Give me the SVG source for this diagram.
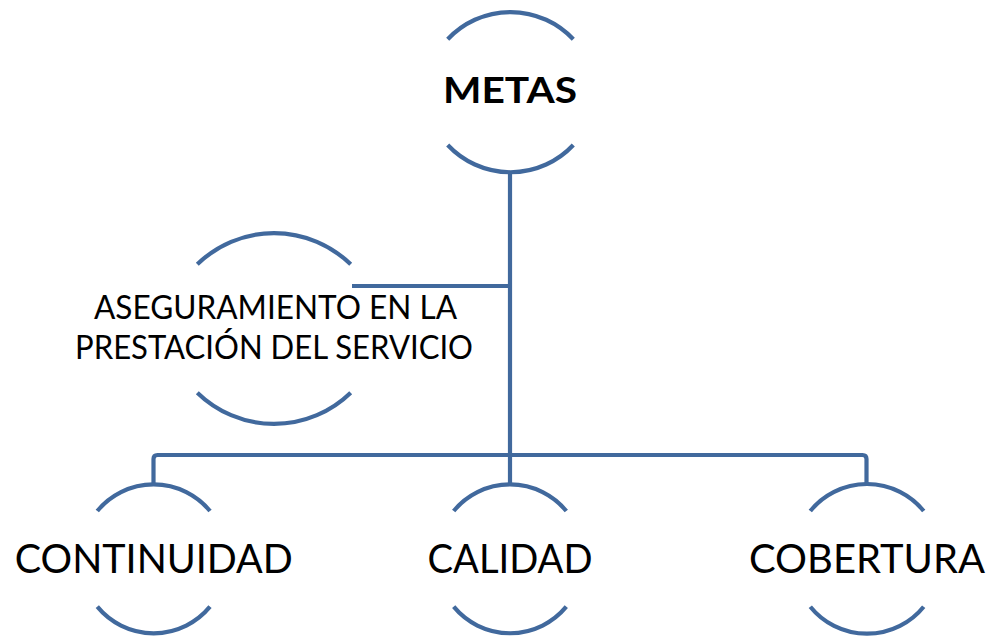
<svg xmlns="http://www.w3.org/2000/svg" width="992" height="639" viewBox="0 0 992 639">
<style>
.arc{fill:none;stroke:#41699D;stroke-width:4.2}
.con{fill:none;stroke:#41699D;stroke-width:4.2}
.lbl{font-family:"Lato","Open Sans","Liberation Sans",sans-serif;fill:#000;text-anchor:middle}
</style>
<rect width="992" height="639" fill="#fff"/>
<g id="connectors">
<path class="con" d="M510,173 V485"/>
<path class="con" d="M352,286 H510"/>
<path class="con" d="M153.5,485 V459 Q153.5,455 157.5,455 H862.5 Q866.5,455 866.5,459 V485"/>
</g>
<g id="metas">
<path class="arc" d="M447.7,39.3 A86,86 0 0 1 573.3,39.3"/>
<path class="arc" d="M447.7,145 A86,86 0 0 0 573.3,145"/>
<text class="lbl" x="510" y="103.3" font-size="37" font-weight="bold" textLength="134" lengthAdjust="spacingAndGlyphs">METAS</text>
</g>
<g id="aseguramiento">
<path class="arc" d="M197.3,264.3 A110,110 0 0 1 350.7,264.3"/>
<path class="arc" d="M197.3,392.7 A110,110 0 0 0 350.7,392.7"/>
<text class="lbl" x="275.5" y="319" font-size="33" textLength="363" lengthAdjust="spacingAndGlyphs">ASEGURAMIENTO EN LA</text>
<text class="lbl" x="274" y="359" font-size="33" textLength="398" lengthAdjust="spacingAndGlyphs">PRESTACIÓN DEL SERVICIO</text>
</g>
<g id="continuidad">
<path class="arc" d="M97.3,511 A73,73 0 0 1 210,511"/>
<path class="arc" d="M97.3,606.7 A73,73 0 0 0 210,606.7"/>
<text class="lbl" x="153.8" y="573.3" font-size="40.5" textLength="278" lengthAdjust="spacingAndGlyphs">CONTINUIDAD</text>
</g>
<g id="calidad">
<path class="arc" d="M453.7,511 A73,73 0 0 1 566.3,511"/>
<path class="arc" d="M453.7,606.7 A73,73 0 0 0 566.3,606.7"/>
<text class="lbl" x="510" y="573.3" font-size="40.5" textLength="165" lengthAdjust="spacingAndGlyphs">CALIDAD</text>
</g>
<g id="cobertura">
<path class="arc" d="M810.3,511 A73,73 0 0 1 923.7,511"/>
<path class="arc" d="M810.3,606.7 A73,73 0 0 0 923.7,606.7"/>
<text class="lbl" x="867" y="573.3" font-size="40.5" textLength="236" lengthAdjust="spacingAndGlyphs">COBERTURA</text>
</g>
</svg>
